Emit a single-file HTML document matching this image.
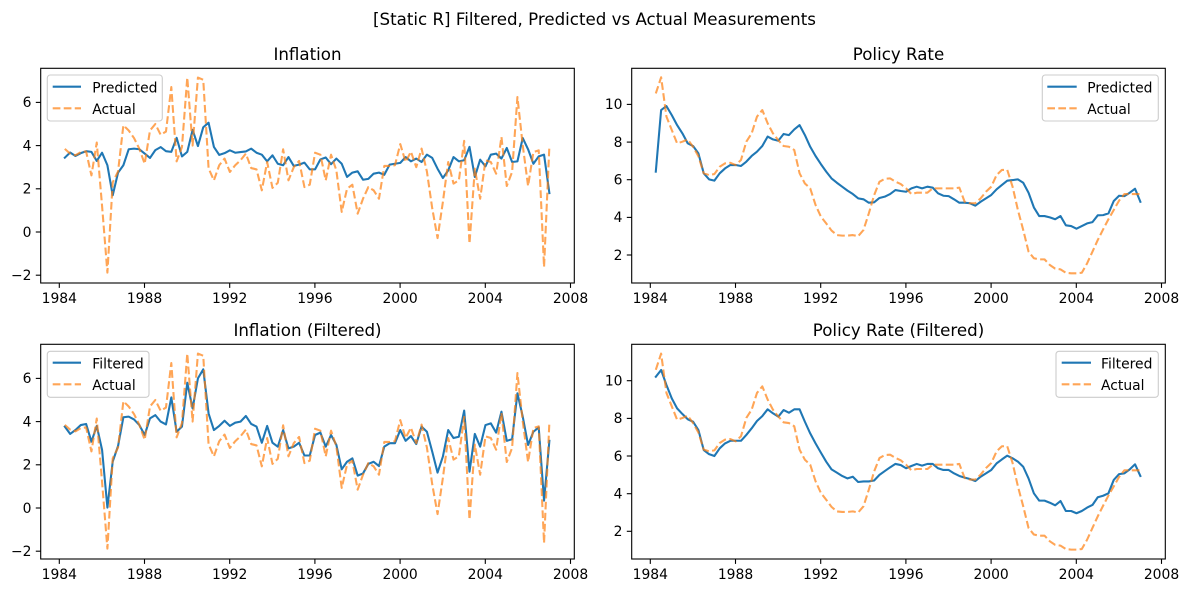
<!DOCTYPE html>
<html>
<head>
<meta charset="utf-8">
<style>
html,body{margin:0;padding:0;background:#fff;}
svg{display:block;}
text{font-family:"DejaVu Sans","Liberation Sans",sans-serif;fill:#000;}
.tk{font-size:13.89px;}
.ttl{font-size:16.67px;}
.ax{fill:none;stroke:#000;stroke-width:1.1;}
.tick{stroke:#000;stroke-width:1.1;}
.blue{fill:none;stroke:#1f77b4;stroke-width:2.08;stroke-linejoin:round;stroke-linecap:square;}
.orng{fill:none;stroke:#ff7f0e;stroke-opacity:0.7;stroke-width:2.08;stroke-dasharray:7.7 3.33;stroke-linejoin:round;}
.lg{fill:#fff;fill-opacity:0.8;stroke:#cccccc;stroke-width:1.1;}
</style>
</head>
<body>
<svg width="1189" height="593" viewBox="0 0 1189 593" xmlns="http://www.w3.org/2000/svg">
<rect width="1189" height="593" fill="#fff"/>

<text class="ttl" x="594.5" y="25" text-anchor="middle">[Static R] Filtered, Predicted vs Actual Measurements</text>

<!-- ============ TOP LEFT: Inflation ============ -->
<text class="ttl" x="307.5" y="60" text-anchor="middle">Inflation</text>
<polyline class="blue" vector-effect="non-scaling-stroke" transform="matrix(5.325 0 0 -21.6 64.8 232)" points="0,3.44 1,3.68 2,3.52 3,3.65 4,3.74 5,3.71 6,3.29 7,3.67 8,3.09 9,1.7 10,2.75 11,3.09 12,3.83 13,3.86 14,3.83 15,3.63 16,3.43 17,3.79 18,3.93 19,3.74 20,3.71 21,4.36 22,3.5 23,3.71 24,4.73 25,3.98 26,4.85 27,5.06 28,3.94 29,3.57 30,3.65 31,3.78 32,3.67 33,3.7 34,3.73 35,3.86 36,3.67 37,3.58 38,3.27 39,3.55 40,3.16 41,3.09 42,3.47 43,3.06 44,3.12 45,3.21 46,2.9 47,2.9 48,3.36 49,3.45 50,3.14 51,3.4 52,3.16 53,2.55 54,2.75 55,2.81 56,2.42 57,2.46 58,2.7 59,2.75 60,2.65 61,3.12 62,3.16 63,3.2 64,3.47 65,3.27 66,3.4 67,3.24 68,3.58 69,3.43 70,2.93 71,2.5 72,2.85 73,3.47 74,3.27 75,3.32 76,3.94 77,2.55 78,3.35 79,3.04 80,3.58 81,3.63 82,3.4 83,3.89 84,3.24 85,3.27 86,4.35 87,3.83 88,3.16 89,3.5 90,3.58 91,1.8"/>
<polyline class="orng" vector-effect="non-scaling-stroke" transform="matrix(5.325 0 0 -21.6 64.8 232)" points="0,3.85 1,3.63 2,3.55 3,3.7 4,3.73 5,2.62 6,4.14 7,1.2 8,-1.88 9,2.3 10,2.8 11,4.94 12,4.7 13,4.35 14,3.85 15,3.16 16,4.7 17,5.0 18,4.5 19,4.65 20,6.71 21,3.27 22,3.93 23,7.15 24,4.0 25,7.15 26,7.05 27,2.95 28,2.39 29,3.09 30,3.4 31,2.78 32,3.09 33,3.32 34,3.63 35,2.96 36,2.9 37,1.93 38,3.24 39,2.04 40,2.28 41,3.83 42,2.39 43,3.0 44,3.29 45,2.08 46,2.19 47,3.67 48,3.58 49,2.39 50,3.58 51,2.85 52,0.93 53,2.0 54,2.19 55,0.85 56,1.54 57,2.08 58,1.93 59,1.54 60,3.06 61,3.06 62,3.09 63,4.07 64,3.24 65,3.72 66,3.0 67,3.86 68,2.8 69,1.1 70,-0.28 71,1.39 72,3.24 73,2.24 74,2.39 75,4.22 76,-0.54 77,2.93 78,1.54 79,3.32 80,3.24 81,2.7 82,4.4 83,2.13 84,2.78 85,6.25 86,4.01 87,2.13 88,3.7 89,3.78 90,-1.62 91,3.98"/>
<rect class="ax" x="40.7" y="68.3" width="533.6" height="214.7"/>
<g class="tick">
<line x1="35.8" y1="275.2" x2="40.7" y2="275.2"/><line x1="35.8" y1="232" x2="40.7" y2="232"/><line x1="35.8" y1="188.8" x2="40.7" y2="188.8"/><line x1="35.8" y1="145.6" x2="40.7" y2="145.6"/><line x1="35.8" y1="102.4" x2="40.7" y2="102.4"/>
<line x1="59.3" y1="283" x2="59.3" y2="287.9"/><line x1="144.5" y1="283" x2="144.5" y2="287.9"/><line x1="229.7" y1="283" x2="229.7" y2="287.9"/><line x1="314.9" y1="283" x2="314.9" y2="287.9"/><line x1="400.1" y1="283" x2="400.1" y2="287.9"/><line x1="485.3" y1="283" x2="485.3" y2="287.9"/><line x1="570.5" y1="283" x2="570.5" y2="287.9"/>
</g>
<g class="tk" text-anchor="end">
<text x="31.5" y="280">−2</text><text x="31.5" y="236.8">0</text><text x="31.5" y="193.6">2</text><text x="31.5" y="150.4">4</text><text x="31.5" y="107.2">6</text>
</g>
<g class="tk" text-anchor="middle">
<text x="59.3" y="303">1984</text><text x="144.5" y="303">1988</text><text x="229.7" y="303">1992</text><text x="314.9" y="303">1996</text><text x="400.1" y="303">2000</text><text x="485.3" y="303">2004</text><text x="570.5" y="303">2008</text>
</g>
<rect class="lg" x="47.3" y="75" width="115" height="46" rx="3"/>
<line x1="52.7" y1="86.7" x2="81" y2="86.7" stroke="#1f77b4" stroke-width="2.08"/>
<line x1="52.7" y1="108.3" x2="81" y2="108.3" stroke="#ff7f0e" stroke-opacity="0.7" stroke-width="2.08" stroke-dasharray="7.7 3.33"/>
<text class="tk" x="92.3" y="92.3">Predicted</text>
<text class="tk" x="92.3" y="113.8">Actual</text>

<!-- ============ TOP RIGHT: Policy Rate ============ -->
<text class="ttl" x="898.5" y="60" text-anchor="middle">Policy Rate</text>
<polyline class="blue" vector-effect="non-scaling-stroke" transform="matrix(5.325 0 0 -18.83 655.8 292.7)" points="0,6.43 1,9.7 2,9.91 3,9.43 4,8.9 5,8.46 6,7.93 7,7.79 8,7.4 9,6.34 10,6.02 11,5.95 12,6.34 13,6.6 14,6.78 15,6.78 16,6.73 17,6.96 18,7.26 19,7.49 20,7.79 21,8.29 22,8.14 23,8.07 24,8.43 25,8.37 26,8.67 27,8.9 28,8.37 29,7.75 30,7.26 31,6.83 32,6.43 33,6.07 34,5.84 35,5.63 36,5.42 37,5.24 38,5.01 39,4.96 40,4.78 41,4.8 42,5.03 43,5.1 44,5.24 45,5.45 46,5.4 47,5.36 48,5.54 49,5.63 50,5.54 51,5.63 52,5.58 53,5.28 54,5.15 55,5.13 56,4.96 57,4.78 58,4.78 59,4.75 60,4.62 61,4.83 62,5.01 63,5.19 64,5.49 65,5.72 66,5.95 67,5.98 68,6.02 69,5.84 70,5.31 71,4.53 72,4.07 73,4.07 74,4.0 75,3.9 76,4.07 77,3.58 78,3.54 79,3.4 80,3.54 81,3.68 82,3.75 83,4.11 84,4.12 85,4.21 86,4.87 87,5.15 88,5.13 89,5.31 90,5.52 91,4.83"/>
<polyline class="orng" vector-effect="non-scaling-stroke" transform="matrix(5.325 0 0 -18.83 655.8 292.7)" points="0,10.58 1,11.44 2,9.35 3,8.64 4,7.93 5,8.02 6,8.14 7,7.75 8,7.25 9,6.34 10,6.25 11,6.3 12,6.69 13,6.87 14,6.9 15,6.78 16,7.05 17,8.02 18,8.46 19,9.35 20,9.7 21,9.0 22,8.46 23,8.1 24,7.79 25,7.75 26,7.58 27,6.34 28,5.8 29,5.54 30,4.66 31,4.04 32,3.68 33,3.3 34,3.06 35,3.03 36,3.03 37,3.06 38,3.0 39,3.33 40,4.21 41,5.18 42,5.89 43,6.05 44,6.07 45,5.9 46,5.77 47,5.54 48,5.24 49,5.31 50,5.31 51,5.31 52,5.54 53,5.54 54,5.54 55,5.54 56,5.54 57,5.58 58,4.83 59,4.75 60,4.75 61,5.01 62,5.36 63,5.63 64,6.25 65,6.52 66,6.52 67,5.63 68,4.39 69,3.33 70,2.18 71,1.83 72,1.77 73,1.77 74,1.47 75,1.28 76,1.24 77,1.06 78,1.03 79,1.03 80,1.06 81,1.56 82,2.18 83,2.8 84,3.36 85,3.9 86,4.39 87,4.89 88,5.24 89,5.24 90,5.24 91,5.24"/>
<rect class="ax" x="631.7" y="68.3" width="533.6" height="214.7"/>
<g class="tick">
<line x1="626.8" y1="255" x2="631.7" y2="255"/><line x1="626.8" y1="217.4" x2="631.7" y2="217.4"/><line x1="626.8" y1="179.7" x2="631.7" y2="179.7"/><line x1="626.8" y1="142.1" x2="631.7" y2="142.1"/><line x1="626.8" y1="104.4" x2="631.7" y2="104.4"/>
<line x1="650.3" y1="283" x2="650.3" y2="287.9"/><line x1="735.5" y1="283" x2="735.5" y2="287.9"/><line x1="820.7" y1="283" x2="820.7" y2="287.9"/><line x1="905.9" y1="283" x2="905.9" y2="287.9"/><line x1="991.1" y1="283" x2="991.1" y2="287.9"/><line x1="1076.3" y1="283" x2="1076.3" y2="287.9"/><line x1="1161.5" y1="283" x2="1161.5" y2="287.9"/>
</g>
<g class="tk" text-anchor="end">
<text x="622.5" y="259.8">2</text><text x="622.5" y="222.2">4</text><text x="622.5" y="184.5">6</text><text x="622.5" y="146.9">8</text><text x="622.5" y="109.2">10</text>
</g>
<g class="tk" text-anchor="middle">
<text x="650.3" y="303">1984</text><text x="735.5" y="303">1988</text><text x="820.7" y="303">1992</text><text x="905.9" y="303">1996</text><text x="991.1" y="303">2000</text><text x="1076.3" y="303">2004</text><text x="1161.5" y="303">2008</text>
</g>
<rect class="lg" x="1042.3" y="75" width="116" height="46" rx="3"/>
<line x1="1047.3" y1="86.7" x2="1076.7" y2="86.7" stroke="#1f77b4" stroke-width="2.08"/>
<line x1="1047.3" y1="108.3" x2="1076.7" y2="108.3" stroke="#ff7f0e" stroke-opacity="0.7" stroke-width="2.08" stroke-dasharray="7.7 3.33"/>
<text class="tk" x="1087.3" y="92.3">Predicted</text>
<text class="tk" x="1087.3" y="113.8">Actual</text>

<!-- ============ BOTTOM LEFT: Inflation (Filtered) ============ -->
<text class="ttl" x="307.5" y="336" text-anchor="middle">Inflation (Filtered)</text>
<polyline class="blue" vector-effect="non-scaling-stroke" transform="matrix(5.325 0 0 -21.6 64.8 508)" points="0,3.77 1,3.43 2,3.61 3,3.84 4,3.89 5,3.07 6,3.8 7,2.69 8,0.02 9,2.15 10,2.87 11,4.2 12,4.23 13,4.1 14,3.84 15,3.38 16,4.15 17,4.3 18,4.0 19,3.87 20,5.12 21,3.53 22,3.77 23,5.8 24,4.61 25,6.0 26,6.42 27,4.38 28,3.61 29,3.8 30,4.04 31,3.8 32,3.95 33,4.0 34,4.26 35,3.89 36,3.77 37,3.02 38,3.8 39,3.02 40,2.84 41,3.61 42,2.76 43,2.84 44,3.02 45,2.43 46,2.43 47,3.38 48,3.49 49,2.84 50,3.38 51,2.92 52,1.79 53,2.14 54,2.3 55,1.5 56,1.6 57,2.04 58,2.14 59,1.94 60,2.84 61,3.0 62,3.0 63,3.61 64,3.11 65,3.33 66,2.96 67,3.77 68,3.53 69,2.61 70,1.64 71,2.38 72,3.61 73,3.24 74,3.3 75,4.51 76,1.68 77,3.43 78,2.84 79,3.84 80,3.92 81,3.49 82,4.46 83,3.11 84,3.18 85,5.31 86,4.23 87,2.92 88,3.53 89,3.73 90,0.34 91,3.11"/>
<polyline class="orng" vector-effect="non-scaling-stroke" transform="matrix(5.325 0 0 -21.6 64.8 508)" points="0,3.85 1,3.63 2,3.55 3,3.7 4,3.73 5,2.62 6,4.14 7,1.2 8,-1.88 9,2.3 10,2.8 11,4.94 12,4.7 13,4.35 14,3.85 15,3.16 16,4.7 17,5.0 18,4.5 19,4.65 20,6.71 21,3.27 22,3.93 23,7.15 24,4.0 25,7.15 26,7.05 27,2.95 28,2.39 29,3.09 30,3.4 31,2.78 32,3.09 33,3.32 34,3.63 35,2.96 36,2.9 37,1.93 38,3.24 39,2.04 40,2.28 41,3.83 42,2.39 43,3.0 44,3.29 45,2.08 46,2.19 47,3.67 48,3.58 49,2.39 50,3.58 51,2.85 52,0.93 53,2.0 54,2.19 55,0.85 56,1.54 57,2.08 58,1.93 59,1.54 60,3.06 61,3.06 62,3.09 63,4.07 64,3.24 65,3.72 66,3.0 67,3.86 68,2.8 69,1.1 70,-0.28 71,1.39 72,3.24 73,2.24 74,2.39 75,4.22 76,-0.54 77,2.93 78,1.54 79,3.32 80,3.24 81,2.7 82,4.4 83,2.13 84,2.78 85,6.25 86,4.01 87,2.13 88,3.7 89,3.78 90,-1.62 91,3.98"/>
<rect class="ax" x="40.7" y="344.3" width="533.6" height="214.7"/>
<g class="tick">
<line x1="35.8" y1="551.2" x2="40.7" y2="551.2"/><line x1="35.8" y1="508" x2="40.7" y2="508"/><line x1="35.8" y1="464.8" x2="40.7" y2="464.8"/><line x1="35.8" y1="421.6" x2="40.7" y2="421.6"/><line x1="35.8" y1="378.4" x2="40.7" y2="378.4"/>
<line x1="59.3" y1="559" x2="59.3" y2="563.9"/><line x1="144.5" y1="559" x2="144.5" y2="563.9"/><line x1="229.7" y1="559" x2="229.7" y2="563.9"/><line x1="314.9" y1="559" x2="314.9" y2="563.9"/><line x1="400.1" y1="559" x2="400.1" y2="563.9"/><line x1="485.3" y1="559" x2="485.3" y2="563.9"/><line x1="570.5" y1="559" x2="570.5" y2="563.9"/>
</g>
<g class="tk" text-anchor="end">
<text x="31.5" y="556">−2</text><text x="31.5" y="512.8">0</text><text x="31.5" y="469.6">2</text><text x="31.5" y="426.4">4</text><text x="31.5" y="383.2">6</text>
</g>
<g class="tk" text-anchor="middle">
<text x="59.3" y="579">1984</text><text x="144.5" y="579">1988</text><text x="229.7" y="579">1992</text><text x="314.9" y="579">1996</text><text x="400.1" y="579">2000</text><text x="485.3" y="579">2004</text><text x="570.5" y="579">2008</text>
</g>
<rect class="lg" x="47.3" y="351.3" width="101.7" height="46" rx="3"/>
<line x1="52.7" y1="362.7" x2="81" y2="362.7" stroke="#1f77b4" stroke-width="2.08"/>
<line x1="52.7" y1="384.3" x2="81" y2="384.3" stroke="#ff7f0e" stroke-opacity="0.7" stroke-width="2.08" stroke-dasharray="7.7 3.33"/>
<text class="tk" x="92.3" y="368.3">Filtered</text>
<text class="tk" x="92.3" y="389.8">Actual</text>

<!-- ============ BOTTOM RIGHT: Policy Rate (Filtered) ============ -->
<text class="ttl" x="898.5" y="336" text-anchor="middle">Policy Rate (Filtered)</text>
<polyline class="blue" vector-effect="non-scaling-stroke" transform="matrix(5.325 0 0 -18.83 655.8 569)" points="0,10.21 1,10.57 2,9.77 3,9.06 4,8.53 5,8.23 6,7.95 7,7.82 8,7.38 9,6.32 10,6.1 11,6.0 12,6.41 13,6.67 14,6.81 15,6.81 16,6.81 17,7.12 18,7.47 19,7.86 20,8.12 21,8.48 22,8.27 23,8.09 24,8.44 25,8.3 26,8.48 27,8.48 28,7.82 29,7.2 30,6.67 31,6.18 32,5.7 33,5.29 34,5.12 35,4.94 36,4.81 37,4.9 38,4.62 39,4.65 40,4.65 41,4.7 42,5.0 43,5.2 44,5.4 45,5.58 46,5.52 47,5.35 48,5.47 49,5.58 50,5.49 51,5.58 52,5.58 53,5.35 54,5.26 55,5.26 56,5.08 57,4.94 58,4.85 59,4.78 60,4.67 61,4.9 62,5.08 63,5.26 64,5.61 65,5.82 66,6.02 67,5.88 68,5.7 69,5.43 70,4.81 71,4.02 72,3.63 73,3.63 74,3.52 75,3.38 76,3.61 77,3.08 78,3.08 79,2.96 80,3.08 81,3.26 82,3.4 83,3.81 84,3.89 85,4.02 86,4.73 87,5.04 88,5.08 89,5.29 90,5.56 91,4.94"/>
<polyline class="orng" vector-effect="non-scaling-stroke" transform="matrix(5.325 0 0 -18.83 655.8 569)" points="0,10.58 1,11.44 2,9.35 3,8.64 4,7.93 5,8.02 6,8.14 7,7.75 8,7.25 9,6.34 10,6.25 11,6.3 12,6.69 13,6.87 14,6.9 15,6.78 16,7.05 17,8.02 18,8.46 19,9.35 20,9.7 21,9.0 22,8.46 23,8.1 24,7.79 25,7.75 26,7.58 27,6.34 28,5.8 29,5.54 30,4.66 31,4.04 32,3.68 33,3.3 34,3.06 35,3.03 36,3.03 37,3.06 38,3.0 39,3.33 40,4.21 41,5.18 42,5.89 43,6.05 44,6.07 45,5.9 46,5.77 47,5.54 48,5.24 49,5.31 50,5.31 51,5.31 52,5.54 53,5.54 54,5.54 55,5.54 56,5.54 57,5.58 58,4.83 59,4.75 60,4.75 61,5.01 62,5.36 63,5.63 64,6.25 65,6.52 66,6.52 67,5.63 68,4.39 69,3.33 70,2.18 71,1.83 72,1.77 73,1.77 74,1.47 75,1.28 76,1.24 77,1.06 78,1.03 79,1.03 80,1.06 81,1.56 82,2.18 83,2.8 84,3.36 85,3.9 86,4.39 87,4.89 88,5.24 89,5.24 90,5.24 91,5.24"/>
<rect class="ax" x="631.7" y="344.3" width="533.6" height="214.7"/>
<g class="tick">
<line x1="626.8" y1="531.3" x2="631.7" y2="531.3"/><line x1="626.8" y1="493.7" x2="631.7" y2="493.7"/><line x1="626.8" y1="456" x2="631.7" y2="456"/><line x1="626.8" y1="418.4" x2="631.7" y2="418.4"/><line x1="626.8" y1="380.7" x2="631.7" y2="380.7"/>
<line x1="650.3" y1="559" x2="650.3" y2="563.9"/><line x1="735.5" y1="559" x2="735.5" y2="563.9"/><line x1="820.7" y1="559" x2="820.7" y2="563.9"/><line x1="905.9" y1="559" x2="905.9" y2="563.9"/><line x1="991.1" y1="559" x2="991.1" y2="563.9"/><line x1="1076.3" y1="559" x2="1076.3" y2="563.9"/><line x1="1161.5" y1="559" x2="1161.5" y2="563.9"/>
</g>
<g class="tk" text-anchor="end">
<text x="622.5" y="536.1">2</text><text x="622.5" y="498.5">4</text><text x="622.5" y="460.8">6</text><text x="622.5" y="423.2">8</text><text x="622.5" y="385.5">10</text>
</g>
<g class="tk" text-anchor="middle">
<text x="650.3" y="579">1984</text><text x="735.5" y="579">1988</text><text x="820.7" y="579">1992</text><text x="905.9" y="579">1996</text><text x="991.1" y="579">2000</text><text x="1076.3" y="579">2004</text><text x="1161.5" y="579">2008</text>
</g>
<rect class="lg" x="1056" y="351.3" width="102.3" height="46" rx="3"/>
<line x1="1061.7" y1="362.7" x2="1091" y2="362.7" stroke="#1f77b4" stroke-width="2.08"/>
<line x1="1061.7" y1="384.3" x2="1091" y2="384.3" stroke="#ff7f0e" stroke-opacity="0.7" stroke-width="2.08" stroke-dasharray="7.7 3.33"/>
<text class="tk" x="1101" y="368.3">Filtered</text>
<text class="tk" x="1101" y="389.8">Actual</text>
</svg>
</body>
</html>
